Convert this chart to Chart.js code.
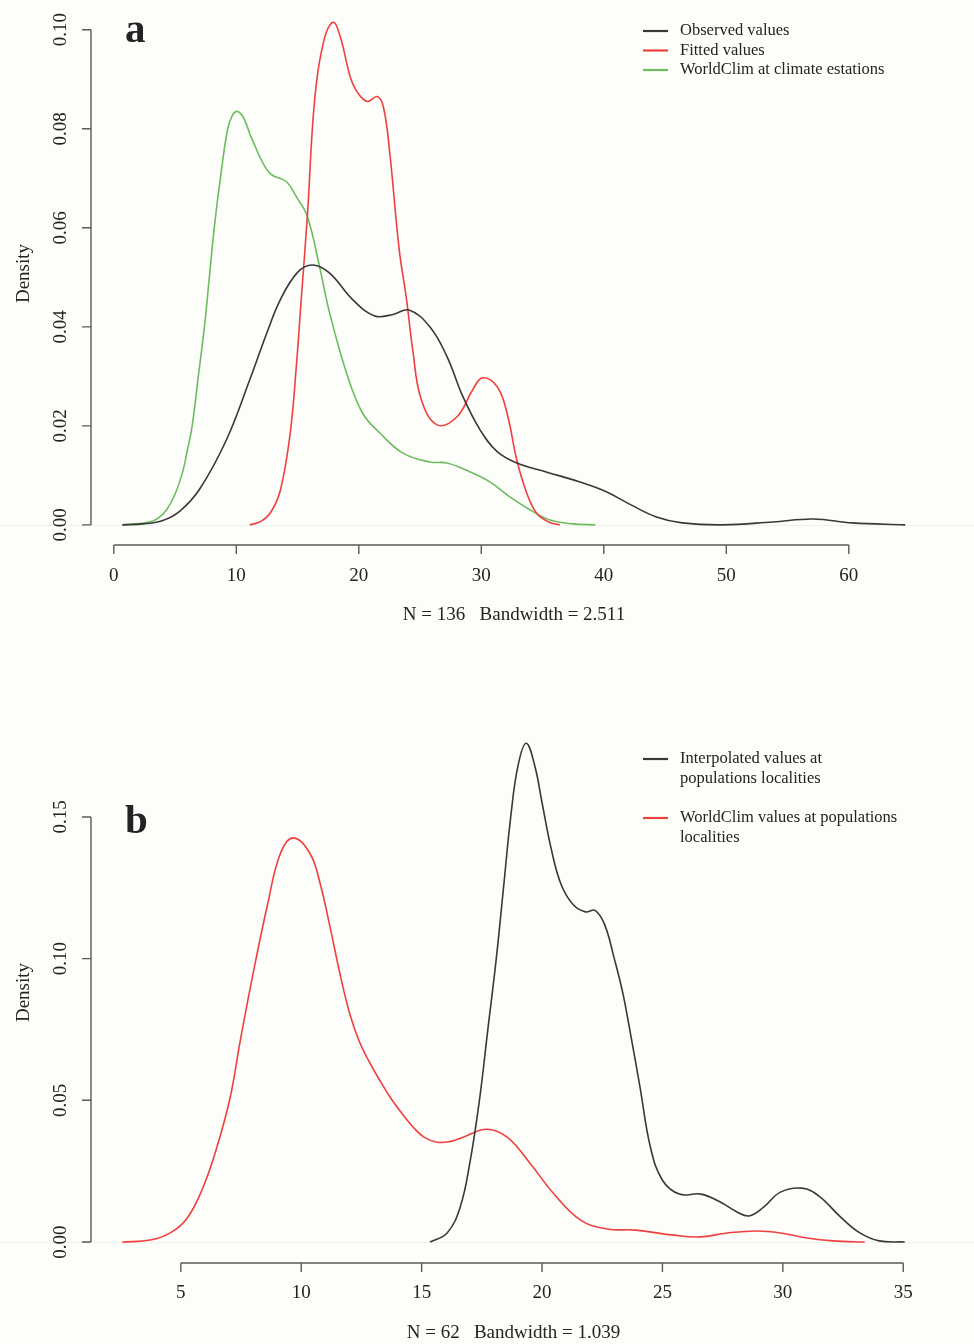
<!DOCTYPE html>
<html>
<head>
<meta charset="utf-8">
<script src="https://cdn.jsdelivr.net/npm/chart.js@4/dist/chart.umd.min.js"></script>
<style>
  html, body { margin: 0; padding: 0; background: #fdfdfa; }
  #wrap { position: relative; width: 974px; height: 1344px; background: #fdfdfa; }
  canvas { position: absolute; left: 0; }
  #ca { top: 0; }
  #cb { top: 650px; }
</style>
</head>
<body>
<div id="wrap">
  <canvas id="ca" width="974" height="650"></canvas>
  <canvas id="cb" width="974" height="694"></canvas>
</div>
<script>
// ---------- Panel a data ----------
const aObsX = [0.7, 2.4, 4.0, 5.4, 7.0, 9.2, 11.1, 12.5, 13.6, 15.0, 16.2, 17.6, 19.5, 21.3, 22.8, 24.1, 25.8, 27.2, 28.5, 29.9, 31.3, 32.9, 35.3, 38.0, 40.2, 42.1, 44.3, 46.4, 49.7, 53.8, 57.1, 60.3, 64.6];
const aObsY = [0, 0.0002, 0.0009, 0.0028, 0.0072, 0.0172, 0.0293, 0.0388, 0.0455, 0.0510, 0.0525, 0.0509, 0.0455, 0.0422, 0.0425, 0.0434, 0.0400, 0.0340, 0.0259, 0.0192, 0.0148, 0.0125, 0.0107, 0.0087, 0.0067, 0.0042, 0.0016, 0.0004, 0.0000, 0.0006, 0.0012, 0.0004, 0];
const aFitX = [11.1, 12.0, 12.8, 13.6, 14.4, 14.9, 15.3, 15.8, 16.4, 17.1, 17.9, 18.5, 19.3, 19.9, 20.7, 21.5, 22.0, 22.5, 23.3, 23.9, 24.4, 25.1, 26.4, 28.0, 29.3, 30.1, 31.3, 32.1, 32.9, 33.7, 34.5, 35.5, 36.4];
const aFitY = [0, 0.0007, 0.0025, 0.0070, 0.0185, 0.032, 0.0455, 0.0623, 0.086, 0.0973, 0.1015, 0.0985, 0.0905, 0.0873, 0.0855, 0.0865, 0.0845, 0.0758, 0.0556, 0.0455, 0.0354, 0.0253, 0.0202, 0.0218, 0.0273, 0.0297, 0.0279, 0.0226, 0.0131, 0.0065, 0.0024, 0.0006, 0];
const aWcX = [0.7, 2.9, 3.6, 4.3, 5.0, 5.6, 6.0, 6.4, 6.9, 7.4, 7.8, 8.2, 8.7, 9.3, 9.7, 10.1, 10.6, 11.3, 12.7, 14.1, 14.9, 15.8, 16.8, 17.6, 19.0, 20.3, 21.7, 23.6, 25.8, 27.2, 29.1, 30.7, 32.3, 34.0, 35.6, 37.5, 39.3];
const aWcY = [0, 0.0006, 0.0013, 0.0030, 0.0062, 0.0105, 0.0150, 0.0200, 0.0300, 0.0400, 0.0500, 0.0600, 0.0700, 0.0800, 0.0828, 0.0835, 0.0822, 0.0778, 0.0711, 0.0693, 0.0663, 0.0623, 0.0521, 0.0430, 0.0307, 0.0226, 0.0186, 0.0145, 0.0127, 0.0125, 0.0107, 0.0087, 0.0057, 0.0030, 0.0010, 0.0002, 0];
const aXTicks = [0, 10, 20, 30, 40, 50, 60];
const aXTickLabels = ['0', '10', '20', '30', '40', '50', '60'];
const aYTicks = [0, 0.02, 0.04, 0.06, 0.08, 0.10];
const aYTickLabels = ['0.00', '0.02', '0.04', '0.06', '0.08', '0.10'];
const aLabels = [['Observed values'], ['Fitted values'], ['WorldClim at climate estations']];
const aXTitle = 'N = 136   Bandwidth = 2.511';

// ---------- Panel b data ----------
const bIntX = [15.35, 16.06, 16.6, 17.0, 17.4, 17.75, 18.1, 18.4, 18.7, 19.0, 19.34, 19.7, 20.0, 20.4, 20.8, 21.3, 21.8, 22.2, 22.6, 23.0, 23.35, 23.65, 24.07, 24.5, 25.0, 25.7, 26.6, 27.4, 28.1, 28.6, 29.2, 29.9, 30.8, 31.5, 32.4, 33.2, 34.0, 35.06];
const bIntY = [0, 0.0032, 0.0123, 0.0278, 0.050, 0.075, 0.100, 0.125, 0.150, 0.168, 0.176, 0.168, 0.155, 0.138, 0.126, 0.119, 0.1165, 0.117, 0.112, 0.100, 0.088, 0.0746, 0.0546, 0.0335, 0.0218, 0.0169, 0.0169, 0.0141, 0.0106, 0.0092, 0.0123, 0.0176, 0.0190, 0.0162, 0.0088, 0.0032, 0.0004, 0];
const bWcX = [2.57, 3.73, 4.56, 5.27, 5.93, 6.5, 7.05, 7.47, 8.0, 8.6, 9.13, 9.67, 10.37, 10.8, 11.2, 11.6, 12.0, 12.4, 12.86, 13.3, 13.7, 14.2, 14.65, 15.1, 15.64, 16.2, 16.72, 17.7, 18.55, 19.5, 20.46, 21.6, 22.7, 23.9, 25.4, 26.56, 27.7, 28.9, 29.9, 31.0, 32.1, 33.4];
const bWcY = [0, 0.0007, 0.0032, 0.0085, 0.0194, 0.0335, 0.051, 0.0711, 0.0947, 0.119, 0.137, 0.1426, 0.137, 0.126, 0.111, 0.095, 0.081, 0.071, 0.063, 0.0565, 0.051, 0.0452, 0.0405, 0.0370, 0.0352, 0.0355, 0.0370, 0.0398, 0.037, 0.0278, 0.0173, 0.0077, 0.0046, 0.0042, 0.0025, 0.0018, 0.0032, 0.0039, 0.0032, 0.0014, 0.0004, 0];
const bXTicks = [5, 10, 15, 20, 25, 30, 35];
const bXTickLabels = ['5', '10', '15', '20', '25', '30', '35'];
const bYTicks = [0, 0.05, 0.10, 0.15];
const bYTickLabels = ['0.00', '0.05', '0.10', '0.15'];
const bLabels = [['Interpolated values at', 'populations localities'], ['WorldClim values at populations', 'localities']];
const bXTitle = 'N = 62   Bandwidth = 1.039';

// ---------- styling ----------
const SERIF = '"Liberation Serif", "Times New Roman", Times, serif';
const TEXT = '#232323';
const AXIS = '#5a5a5a';
const C_BLACK = '#383838';
const C_RED = '#ee4040';
const C_GREEN = '#6dbd60';

function pts(xs, ys) { return xs.map((x, i) => ({ x: x, y: ys[i] })); }

function ds(label, xs, ys, color) {
  return {
    label: label, data: pts(xs, ys), borderColor: color, backgroundColor: color,
    borderWidth: 1.6, pointRadius: 0, fill: false, tension: 0.4
  };
}

function axesPlugin(cfg) {
  return {
    id: 'rAxes',
    beforeDraw(chart) {
      const c = chart.ctx;
      c.save();
      c.fillStyle = '#fdfdfa';
      c.fillRect(0, 0, chart.width, chart.height);
      const y0 = chart.scales.y.getPixelForValue(0);
      c.strokeStyle = '#efefec';
      c.lineWidth = 1;
      c.beginPath(); c.moveTo(0, Math.round(y0) + 0.5); c.lineTo(chart.width, Math.round(y0) + 0.5); c.stroke();
      c.restore();
    },
    afterDraw(chart) {
      const c = chart.ctx, xs = chart.scales.x, ys = chart.scales.y, ca = chart.chartArea;
      c.save();
      c.strokeStyle = AXIS; c.lineWidth = 1.4; c.fillStyle = TEXT;
      const yl = ca.left;
      c.beginPath();
      c.moveTo(yl, ys.getPixelForValue(cfg.yTicks[0]));
      c.lineTo(yl, ys.getPixelForValue(cfg.yTicks[cfg.yTicks.length - 1]));
      cfg.yTicks.forEach(v => { const p = ys.getPixelForValue(v); c.moveTo(yl, p); c.lineTo(yl - 9, p); });
      c.stroke();
      c.font = '19px ' + SERIF;
      c.textAlign = 'center'; c.textBaseline = 'alphabetic';
      cfg.yTicks.forEach((v, i) => {
        const p = ys.getPixelForValue(v);
        c.save(); c.translate(66, p); c.rotate(-Math.PI / 2); c.fillText(cfg.yTickLabels[i], 0, 0); c.restore();
      });
      c.save(); c.translate(29, (ca.top + ca.bottom) / 2); c.rotate(-Math.PI / 2); c.fillText('Density', 0, 0); c.restore();
      const xb = ca.bottom;
      c.beginPath();
      c.moveTo(xs.getPixelForValue(cfg.xTicks[0]), xb);
      c.lineTo(xs.getPixelForValue(cfg.xTicks[cfg.xTicks.length - 1]), xb);
      cfg.xTicks.forEach(v => { const p = xs.getPixelForValue(v); c.moveTo(p, xb); c.lineTo(p, xb + 9); });
      c.stroke();
      cfg.xTicks.forEach((v, i) => { c.fillText(cfg.xTickLabels[i], xs.getPixelForValue(v), cfg.xTickBase); });
      c.fillText(cfg.xTitle, (ca.left + ca.right) / 2, cfg.xTitleBase);
      c.font = 'bold 41px ' + SERIF; c.textAlign = 'left';
      c.fillText(cfg.letter, 125, cfg.letterBase);
      c.font = '16.5px ' + SERIF;
      let yb = cfg.legendTop;
      chart.data.datasets.forEach((d, i) => {
        c.strokeStyle = d.borderColor; c.lineWidth = 2.2;
        c.beginPath(); c.moveTo(643, yb - 4); c.lineTo(668, yb - 4); c.stroke();
        const lines = cfg.labels[i];
        lines.forEach((t, j) => { c.fillText(t, 680, yb + j * 19.5); });
        yb += lines.length * 19.5 + cfg.legendGap;
      });
      c.restore();
    }
  };
}

function makeChart(id, datasets, sc, pad, cfg) {
  return new Chart(document.getElementById(id), {
    type: 'line',
    data: { datasets: datasets },
    options: {
      responsive: false, animation: false, events: [],
      layout: { padding: pad },
      scales: {
        x: { type: 'linear', min: sc.xmin, max: sc.xmax, display: false },
        y: { type: 'linear', min: sc.ymin, max: sc.ymax, display: false }
      },
      plugins: { legend: { display: false }, tooltip: { enabled: false } }
    },
    plugins: [axesPlugin(cfg)]
  });
}

makeChart('ca', [
  ds(aLabels[0][0], aObsX, aObsY, C_BLACK),
  ds(aLabels[1][0], aFitX, aFitY, C_RED),
  ds(aLabels[2][0], aWcX, aWcY, C_GREEN)
], { xmin: -1.86, xmax: 67.2, ymin: -0.00406, ymax: 0.1056 },
  { left: 91, right: 37, top: 2, bottom: 105 },
  { xTicks: aXTicks, xTickLabels: aXTickLabels, yTicks: aYTicks, yTickLabels: aYTickLabels,
    xTickBase: 581, xTitle: aXTitle, xTitleBase: 620, letter: 'a', letterBase: 42,
    labels: aLabels, legendTop: 35, legendGap: 0 });

makeChart('cb', [
  ds(bLabels[0].join(' '), bIntX, bIntY, C_BLACK),
  ds(bLabels[1].join(' '), bWcX, bWcY, C_RED)
], { xmin: 1.27, xmax: 36.36, ymin: -0.00741, ymax: 0.1835 },
  { left: 91, right: 38, top: 72, bottom: 81 },
  { xTicks: bXTicks, xTickLabels: bXTickLabels, yTicks: bYTicks, yTickLabels: bYTickLabels,
    xTickBase: 648, xTitle: bXTitle, xTitleBase: 688, letter: 'b', letterBase: 183,
    labels: bLabels, legendTop: 113, legendGap: 20 });
</script>
</body>
</html>
